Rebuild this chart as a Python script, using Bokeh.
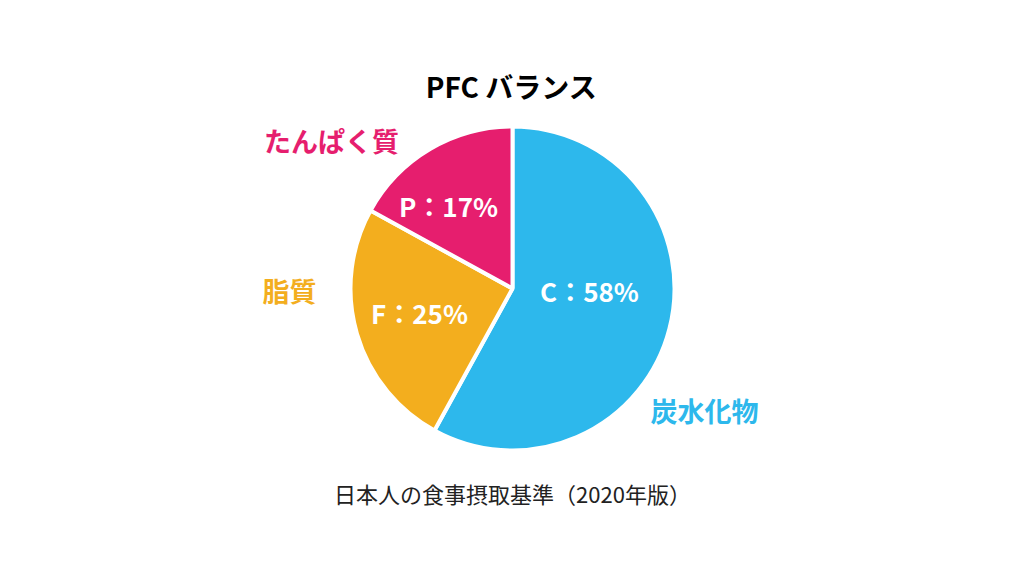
import math
from bokeh.plotting import figure
from bokeh.models import Range1d, ColumnDataSource
from bokeh.core.properties import value
from bokeh.embed import file_html
from bokeh.resources import INLINE

# Data
names = ["炭水化物", "脂質", "たんぱく質"]
codes = ["C", "F", "P"]
percents = [58, 25, 17]
colors = ["#2DB8EC", "#F3AE1E", "#E61E6E"]
title_text = "PFC バランス"
source_text = "日本人の食事摂取基準（2020年版）"

W, H = 1008, 560
p = figure(width=W, height=H, output_backend="svg", toolbar_location=None,
           x_range=Range1d(0, W), y_range=Range1d(576 - H, 576),
           min_border=0)
p.axis.visible = False
p.grid.visible = False
p.outline_line_color = None
p.background_fill_color = "white"
p.border_fill_color = "white"

cx, cy, r = 512, 288, 162
total = sum(percents)
starts, ends = [], []
a = math.pi / 2
for v in percents:
    starts.append(a)
    a -= v / total * 2 * math.pi
    ends.append(a)

src = ColumnDataSource(dict(start=starts, end=ends, color=colors))
p.wedge(x=cx, y=cy, radius=r, start_angle="start", end_angle="end",
        direction="clock", fill_color="color", line_color="white",
        line_width=4, source=src)

font = value("Noto Sans CJK JP")

# inner labels
inner_x = [589, 419, 448]
inner_y = [576 - 290, 576 - 312, 576 - 205]
inner_txt = [f"{c}：{v}%" for c, v in zip(codes, percents)]
p.text(x=inner_x, y=inner_y, text=inner_txt, text_color="white",
       text_font=font, text_font_style="bold", text_font_size="26px",
       text_align="center", text_baseline="middle")

# outer labels
outer_x = [704, 289, 331]
outer_y = [576 - 410, 576 - 290, 576 - 140]
src2 = ColumnDataSource(dict(x=outer_x, y=outer_y, t=names, c=colors))
p.text(x="x", y="y", text="t", text_color="c", source=src2,
       text_font=font, text_font_style="bold", text_font_size="27px",
       text_align="center", text_baseline="middle")

# title
p.text(x=[511], y=[576 - 85], text=[title_text], text_color="black",
       text_font=font, text_font_style="bold", text_font_size="28px",
       text_align="center", text_baseline="middle")

# source
p.text(x=[512], y=[576 - 492], text=[source_text], text_color="#222222",
       text_font=font, text_font_size="22px",
       text_align="center", text_baseline="middle")

open("out.html", "w").write(file_html(p, INLINE))
